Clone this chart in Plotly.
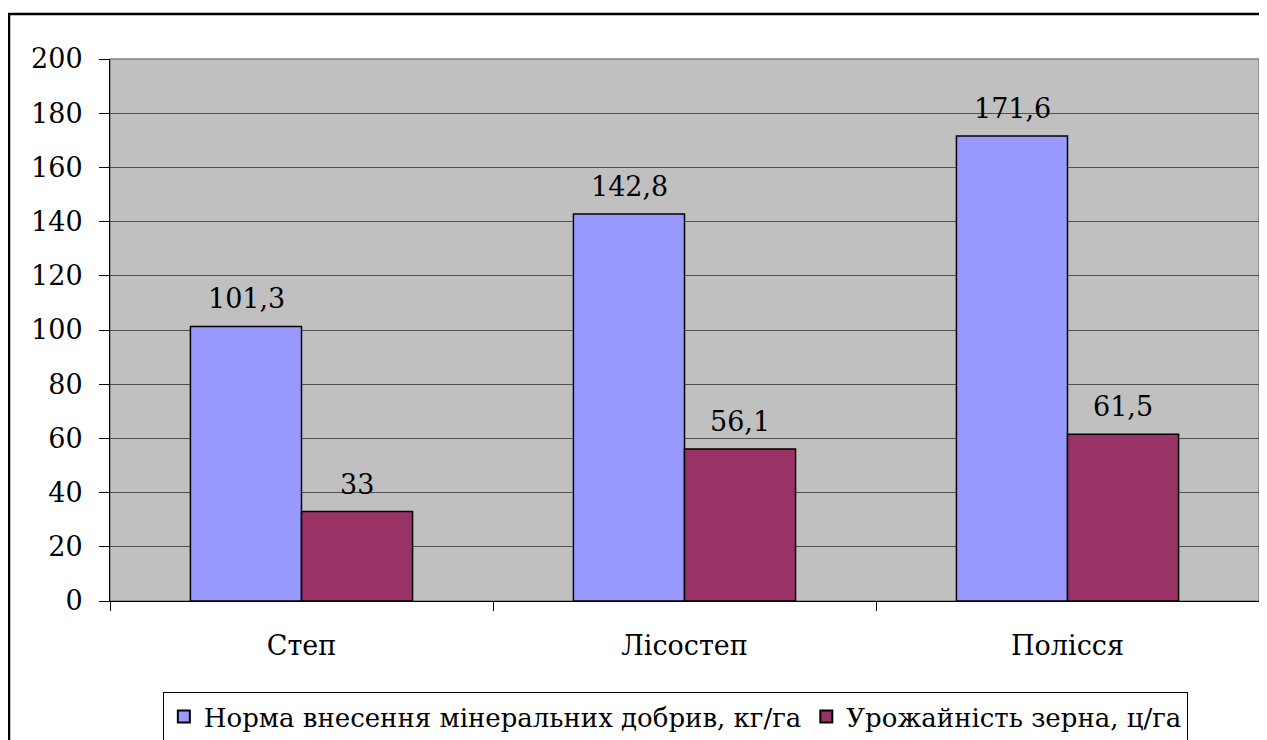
import plotly.graph_objects as go

categories = ["Степ", "Лісостеп", "Полісся"]
fert = [101.3, 142.8, 171.6]
yield_ = [33, 56.1, 61.5]
names = ["Норма внесення мінеральних добрив, кг/га", "Урожайність зерна, ц/га"]
colors = ["#9999FF", "#993366"]
y_ticks = [0, 20, 40, 60, 80, 100, 120, 140, 160, 180, 200]

FONT = "DejaVu Serif"
FS = 27

def fmt(v):
    s = ("%g" % v)
    return s.replace(".", ",")

fig = go.Figure()
for name, vals, col in zip(names, [fert, yield_], colors):
    fig.add_trace(go.Bar(
        x=categories, y=vals, name=name,
        marker=dict(color=col, line=dict(color="black", width=1.5)),
    ))

annotations = []
for vals, shift in zip([fert, yield_], [-55, 55]):
    for c, v in zip(categories, vals):
        annotations.append(dict(
            x=c, y=v, xref="x", yref="y", text=fmt(v), showarrow=False,
            xshift=shift, yshift=10, yanchor="bottom",
            font=dict(family=FONT, size=FS, color="black"),
        ))

# page has an 8px body margin; figure sized to fill the 1267x740 window
fig.update_layout(
    width=1259, height=732,
    margin=dict(l=102, r=8, t=51, b=139, autoexpand=False),
    paper_bgcolor="white", plot_bgcolor="#C0C0C0",
    barmode="group", bargap=0.42, bargroupgap=0,
    font=dict(family=FONT, size=FS, color="black"),
    showlegend=True,
    legend=dict(
        orientation="h", x=0.046, y=-0.168, xanchor="left", yanchor="top",
        bordercolor="black", borderwidth=1, bgcolor="white",
        font=dict(family=FONT, size=26, color="black"),
        itemsizing="constant", traceorder="normal",
    ),
    annotations=annotations,
    shapes=[
        dict(
            type="rect", xref="paper", yref="paper",
            x0=-0.0879, x1=1.2, y0=-0.5, y1=1.083,
            line=dict(color="black", width=2.5), fillcolor="rgba(0,0,0,0)",
            layer="below",
        ),
        dict(
            type="rect", xref="paper", yref="paper",
            x0=0, x1=1, y0=0, y1=1,
            line=dict(color="#808080", width=1.5), fillcolor="rgba(0,0,0,0)",
            layer="below",
        ),
    ],
)

fig.update_yaxes(
    range=[0, 200], tickvals=y_ticks, ticks="outside", ticklen=10,
    tickcolor="black", showline=True, linecolor="black", linewidth=1,
    showgrid=True, gridcolor="#505050", gridwidth=1,
    tickfont=dict(family=FONT, size=FS), ticklabelstandoff=11,
    mirror=False, zeroline=False,
)
fig.update_xaxes(
    ticks="outside", ticklen=9, tickson="boundaries", tickcolor="black",
    showline=True, linecolor="black", linewidth=1, showgrid=False,
    tickfont=dict(family=FONT, size=FS), ticklabelstandoff=21,
)

fig.write_html("out.html")
